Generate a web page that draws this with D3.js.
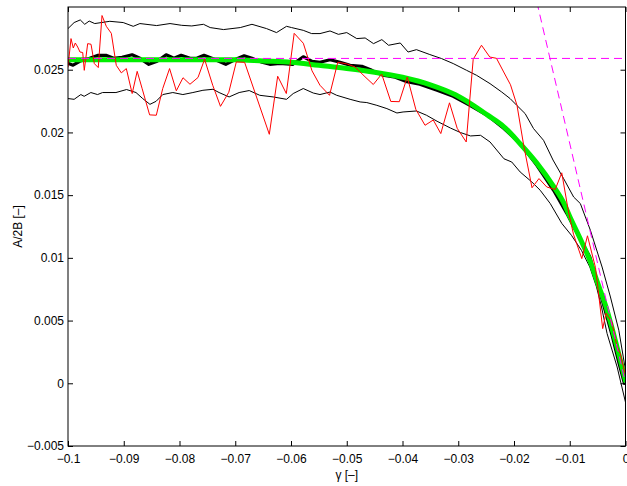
<!DOCTYPE html>
<html>
<head>
<meta charset="utf-8">
<script src="https://cdn.jsdelivr.net/npm/d3@7"></script>
<style>
  body { margin: 0; background: #fff; }
  svg { display: block; }
  text { font-family: "Liberation Sans", Arial, Helvetica, sans-serif; }
</style>
</head>
<body>
<div id="chart_wrapper"></div>
<script>

// tick values + labels
const xTicks = [-0.1, -0.09, -0.08, -0.07, -0.06, -0.05, -0.04, -0.03, -0.02, -0.01, 0]
const xTickLabels = ['\u22120.1', '\u22120.09', '\u22120.08', '\u22120.07', '\u22120.06', '\u22120.05', '\u22120.04', '\u22120.03', '\u22120.02', '\u22120.01', '0']
const yTicks = [-0.005, 0, 0.005, 0.01, 0.015, 0.02, 0.025]
const yTickLabels = ['\u22120.005', '0', '0.005', '0.01', '0.015', '0.02', '0.025']

// upper thin black curve [gamma, A/2B]
const upperCurve = [
    [-0.1, 0.02828], [-0.0989, 0.02876], [-0.0978, 0.02897], [-0.0970, 0.02862], [-0.0962, 0.02888],
    [-0.0952, 0.02868], [-0.0925, 0.02886], [-0.0901, 0.02876], [-0.0883, 0.02846], [-0.0871, 0.02868],
    [-0.0841, 0.02852], [-0.0817, 0.02868], [-0.0796, 0.02854], [-0.0778, 0.02849], [-0.0757, 0.02862],
    [-0.0745, 0.02836], [-0.0721, 0.02820], [-0.0691, 0.02836], [-0.0670, 0.02862], [-0.0644, 0.02828],
    [-0.0626, 0.02796], [-0.0608, 0.02846], [-0.0599, 0.02836], [-0.0578, 0.02814], [-0.0563, 0.02788],
    [-0.0548, 0.02788], [-0.0530, 0.02809], [-0.0515, 0.02782], [-0.0500, 0.02796], [-0.0482, 0.02748],
    [-0.0467, 0.02753], [-0.0452, 0.02708], [-0.0437, 0.02740], [-0.0425, 0.02695], [-0.0404, 0.02713],
    [-0.0390, 0.02641], [-0.0375, 0.02660], [-0.0351, 0.02621], [-0.0330, 0.02589], [-0.0309, 0.02549],
    [-0.0285, 0.02495], [-0.0267, 0.02455], [-0.0243, 0.02389], [-0.0222, 0.02322], [-0.0207, 0.02270],
    [-0.0195, 0.02216], [-0.0180, 0.02150], [-0.0165, 0.02031], [-0.0147, 0.01937], [-0.0130, 0.01780],
    [-0.0111, 0.01632], [-0.0093, 0.01485], [-0.0081, 0.01433], [-0.0063, 0.01220], [-0.0042, 0.00927],
    [-0.0027, 0.00688], [-0.0012, 0.00423], [0, 0.00104]
]

// lower thin black curve
const lowerCurve = [
    [-0.1, 0.02270], [-0.0989, 0.02264], [-0.0977, 0.02302], [-0.0971, 0.02288], [-0.0959, 0.02318],
    [-0.0947, 0.02302], [-0.0938, 0.02318], [-0.0914, 0.02318], [-0.0895, 0.02342], [-0.0878, 0.02318],
    [-0.0866, 0.02270], [-0.0853, 0.02224], [-0.0842, 0.02248], [-0.0830, 0.02302], [-0.0812, 0.02318],
    [-0.0794, 0.02302], [-0.0776, 0.02318], [-0.0758, 0.02336], [-0.0740, 0.02344], [-0.0729, 0.02318],
    [-0.0711, 0.02283], [-0.0693, 0.02318], [-0.0675, 0.02334], [-0.0656, 0.02296], [-0.0632, 0.02283],
    [-0.0608, 0.02264], [-0.0596, 0.02310], [-0.0578, 0.02350], [-0.0560, 0.02314], [-0.0548, 0.02302],
    [-0.0530, 0.02322], [-0.0518, 0.02296], [-0.0494, 0.02264], [-0.0476, 0.02243], [-0.0464, 0.02238],
    [-0.0446, 0.02216], [-0.0428, 0.02190], [-0.0410, 0.02155], [-0.0399, 0.02163], [-0.0375, 0.02171],
    [-0.0357, 0.02137], [-0.0338, 0.02089], [-0.0314, 0.02035], [-0.0296, 0.01999], [-0.0278, 0.01972],
    [-0.0260, 0.01977], [-0.0243, 0.01924], [-0.0218, 0.01790], [-0.0204, 0.01764], [-0.0189, 0.01685],
    [-0.0168, 0.01605], [-0.0153, 0.01539], [-0.0135, 0.01433], [-0.0114, 0.01273], [-0.0097, 0.01180],
    [-0.0079, 0.01060], [-0.0064, 0.00927], [-0.0052, 0.00768], [-0.0043, 0.00608], [-0.0033, 0.00396],
    [-0.0015, 0.00130], [0, -0.00151]
]

// thick black mean curve
const meanCurve = [
    [-0.1, 0.02551], [-0.0991, 0.02536], [-0.0979, 0.02567], [-0.0961, 0.02591], [-0.0946, 0.02615],
    [-0.0932, 0.02615], [-0.0918, 0.02591], [-0.0903, 0.02599], [-0.0885, 0.02619], [-0.0871, 0.02591],
    [-0.0855, 0.02543], [-0.0840, 0.02567], [-0.0824, 0.02619], [-0.0810, 0.02591], [-0.0797, 0.02615],
    [-0.0781, 0.02591], [-0.0769, 0.02591], [-0.0756, 0.02615], [-0.0742, 0.02591], [-0.0717, 0.02543],
    [-0.0699, 0.02583], [-0.0684, 0.02611], [-0.0670, 0.02591], [-0.0652, 0.02559], [-0.0638, 0.02543],
    [-0.0620, 0.02551], [-0.0597, 0.02543], [-0.0578, 0.02603], [-0.0562, 0.02567], [-0.0548, 0.02559],
    [-0.0530, 0.02579], [-0.0512, 0.02559], [-0.0494, 0.02535], [-0.0473, 0.02527], [-0.0455, 0.02495],
    [-0.0435, 0.02456], [-0.0413, 0.02440], [-0.0392, 0.02404], [-0.0369, 0.02384], [-0.0338, 0.02336],
    [-0.0309, 0.02288], [-0.0279, 0.02216], [-0.0248, 0.02137], [-0.0218, 0.02031], [-0.0189, 0.01913],
    [-0.0159, 0.01738], [-0.0129, 0.01539], [-0.0105, 0.01353], [-0.0082, 0.01156], [-0.0064, 0.01007],
    [-0.0040, 0.00638], [-0.0024, 0.00383], [-0.0012, 0.00167], [-0.0002, 0.0000]
]

// green fitted curve
const fitCurve = [
    [-0.1, 0.0258], [-0.09, 0.0258], [-0.08, 0.0258], [-0.07, 0.0258], [-0.065, 0.0257], [-0.06, 0.0256],
    [-0.055, 0.02535], [-0.05, 0.0251], [-0.045, 0.0248], [-0.04, 0.0244], [-0.035, 0.0238], [-0.0305, 0.0230],
    [-0.0278, 0.0223], [-0.0248, 0.0214], [-0.0218, 0.02045], [-0.0189, 0.0191], [-0.0159, 0.01755],
    [-0.0129, 0.0157], [-0.0111, 0.0144], [-0.01, 0.0133], [-0.0082, 0.0116], [-0.0064, 0.0098],
    [-0.005, 0.0080], [-0.0035, 0.0061], [-0.002, 0.0037], [0, 0.0002]
]

// red measured curve
const rawCurve = [
    [-0.1, 0.02522], [-0.09946, 0.02748], [-0.09905, 0.02673], [-0.09869, 0.02713], [-0.09826, 0.02681],
    [-0.09785, 0.02641], [-0.09736, 0.02637], [-0.09708, 0.02495], [-0.09647, 0.02708], [-0.09587, 0.02703],
    [-0.09528, 0.02549], [-0.09457, 0.02517], [-0.09390, 0.02932], [-0.09313, 0.02846], [-0.09223, 0.02790],
    [-0.09134, 0.02535], [-0.09044, 0.02475], [-0.08954, 0.02509], [-0.08849, 0.02310], [-0.08759, 0.02487],
    [-0.08669, 0.02348], [-0.08536, 0.02140], [-0.08416, 0.02137], [-0.08301, 0.02350], [-0.08178, 0.02509],
    [-0.08057, 0.02332], [-0.07937, 0.02436], [-0.07812, 0.02384], [-0.07668, 0.02438], [-0.07550, 0.02583],
    [-0.07404, 0.02376], [-0.07265, 0.02208], [-0.07116, 0.02320], [-0.06981, 0.02562], [-0.06832, 0.02559],
    [-0.06389, 0.01985], [-0.06239, 0.02448], [-0.06084, 0.02310], [-0.05943, 0.02790], [-0.05779, 0.02711],
    [-0.05623, 0.02491], [-0.05480, 0.02376], [-0.05309, 0.02296], [-0.05161, 0.02559], [-0.05001, 0.02547],
    [-0.04852, 0.02522], [-0.04673, 0.02444], [-0.04524, 0.02382], [-0.04373, 0.02465], [-0.04210, 0.02247],
    [-0.04057, 0.02245], [-0.03914, 0.02442], [-0.03761, 0.02184], [-0.03596, 0.02057], [-0.03448, 0.02099],
    [-0.03313, 0.01991], [-0.03157, 0.02236], [-0.03019, 0.02033], [-0.02857, 0.01924], [-0.02732, 0.02583],
    [-0.02583, 0.02695], [-0.02434, 0.02601], [-0.02314, 0.02591], [-0.02185, 0.02482], [-0.02063, 0.02380],
    [-0.01946, 0.02216], [-0.01826, 0.01897], [-0.01677, 0.01559], [-0.01552, 0.01632], [-0.01412, 0.01565],
    [-0.01261, 0.01545], [-0.01143, 0.01678], [-0.01022, 0.01366], [-0.00933, 0.01188], [-0.00784, 0.00994],
    [-0.00682, 0.01176], [-0.00538, 0.00921], [-0.00409, 0.00436], [-0.00350, 0.00558], [-0.00242, 0.00486],
    [-0.00152, 0.00289], [-0.00093, 0.00237], [0, 0.00064]
]

// magenta dashed reference lines
const plateauLine = [[-0.1, 0.0259], [0, 0.0259]]
const slopeLine = [[-0.0159, 0.0304], [0, 0.0]]

const width = 627
const height = 486
const margin = {left: 68, right: 1.5, top: 7, bottom: 40}

const svg = d3.select('#chart_wrapper').append('svg')
    .attr('width', width)
    .attr('height', height)

const x = d3.scaleLinear().domain([-0.1, 0]).range([margin.left, width - margin.right])
const y = d3.scaleLinear().domain([-0.005, 0.03]).range([height - margin.bottom, margin.top])

svg.append('clipPath').attr('id', 'plotclip')
    .append('rect')
    .attr('x', x(-0.1)).attr('y', y(0.03))
    .attr('width', x(0) - x(-0.1)).attr('height', y(-0.005) - y(0.03))

const line = d3.line().x(d => x(d[0])).y(d => y(d[1]))
const smoothLine = d3.line().x(d => x(d[0])).y(d => y(d[1])).curve(d3.curveMonotoneX)

const plot = svg.append('g').attr('clip-path', 'url(#plotclip)')

const drawLine = (data, gen, color, w, dash) => {
    const p = plot.append('path')
        .datum(data)
        .attr('d', gen)
        .attr('fill', 'none')
        .attr('stroke', color)
        .attr('stroke-width', w)
        .attr('stroke-linejoin', 'round')
        .attr('stroke-linecap', 'round')
    if (dash) p.attr('stroke-dasharray', dash).attr('stroke-linecap', 'butt')
    return p
}

drawLine(upperCurve, line, '#000', 1)
drawLine(lowerCurve, line, '#000', 1)
drawLine(meanCurve, line, '#000', 3.2)
drawLine(fitCurve, smoothLine, '#00ee00', 5)
drawLine(rawCurve, line, '#ff0000', 1)
drawLine(plateauLine, line, '#ff00ff', 1, '8,5')
drawLine(slopeLine, line, '#ff00ff', 1, '8,5')

// axes, ticks pointing inwards like matlab
const fmtX = d => xTickLabels[xTicks.indexOf(d)]
const fmtY = d => yTickLabels[yTicks.indexOf(d)]

svg.append('g')
    .attr('transform', `translate(0, ${y(-0.005)})`)
    .call(d3.axisBottom(x).tickValues(xTicks).tickFormat(fmtX).tickSize(-5).tickSizeOuter(0).tickPadding(8.5))
svg.append('g')
    .attr('transform', `translate(0, ${y(0.03)})`)
    .call(d3.axisTop(x).tickValues(xTicks).tickFormat('').tickSize(-5).tickSizeOuter(0))
svg.append('g')
    .attr('transform', `translate(${x(-0.1)}, 0)`)
    .call(d3.axisLeft(y).tickValues(yTicks).tickFormat(fmtY).tickSize(-5).tickSizeOuter(0).tickPadding(4))
svg.append('g')
    .attr('transform', `translate(${x(0)}, 0)`)
    .call(d3.axisRight(y).tickValues(yTicks).tickFormat('').tickSize(-5).tickSizeOuter(0))

svg.selectAll('.domain').remove()
svg.selectAll('.tick line').attr('stroke', '#000')
svg.selectAll('.tick text')
    .attr('fill', '#000')
    .style('font-size', '12px')
    .style('font-family', '"Liberation Sans", Arial, sans-serif')

svg.append('rect')
    .attr('x', x(-0.1)).attr('y', y(0.03))
    .attr('width', x(0) - x(-0.1)).attr('height', y(-0.005) - y(0.03))
    .attr('fill', 'none')
    .attr('stroke', '#000')
    .attr('stroke-width', 1)

svg.append('text')
    .attr('x', (x(-0.1) + x(0)) / 2)
    .attr('y', 479)
    .attr('text-anchor', 'middle')
    .style('font-size', '12px')
    .text('\u03b3 [\u2013]')

svg.append('text')
    .attr('transform', `translate(22, ${(y(-0.005) + y(0.03)) / 2}) rotate(-90)`)
    .attr('text-anchor', 'middle')
    .style('font-size', '12px')
    .text('A/2B [\u2013]')

</script>
</body>
</html>
